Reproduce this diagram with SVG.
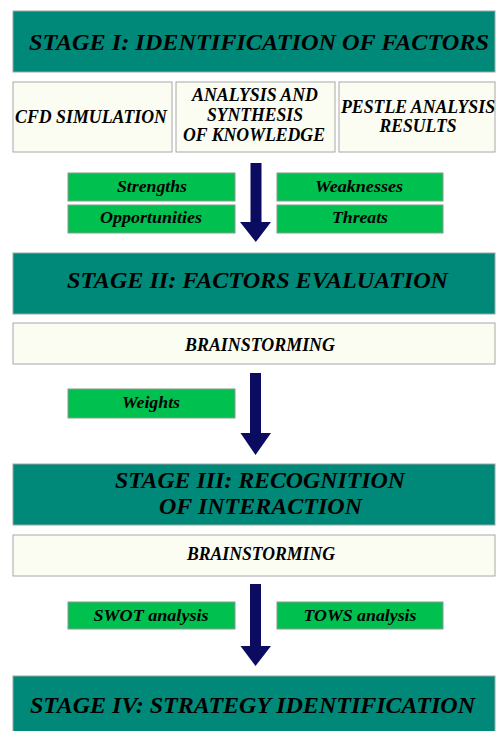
<svg xmlns="http://www.w3.org/2000/svg" width="497" height="731" viewBox="0 0 497 731">
<style>
.stage{fill:#008878;stroke:#9aa8a4;stroke-width:1}
.cream{fill:#fbfdf2;stroke:#a8a8a8;stroke-width:1}
.green{fill:#00c050;stroke:#8a9a8a;stroke-width:1}
text{font-family:"Liberation Serif","Times New Roman",serif;font-weight:bold;font-style:italic;fill:#000;text-anchor:middle}
.st{font-size:24px}
.cr{font-size:18px}
.gr{font-size:17px}
.arrow{fill:#0b0b60}
</style>
<rect width="497" height="731" fill="#ffffff"/>
<g id="stage1"><rect class="stage" x="13" y="11" width="482" height="61"/><text class="st" x="259" y="50" textLength="460" lengthAdjust="spacingAndGlyphs">STAGE I: IDENTIFICATION OF FACTORS</text></g>
<g id="cfd"><rect class="cream" x="13" y="82" width="159" height="70"/><text class="cr" x="91" y="123" textLength="152" lengthAdjust="spacingAndGlyphs">CFD SIMULATION</text></g>
<g id="analysis"><rect class="cream" x="176" y="82" width="159" height="70"/><text class="cr" x="255" y="101" textLength="126" lengthAdjust="spacingAndGlyphs">ANALYSIS AND</text><text class="cr" x="255" y="121" textLength="96" lengthAdjust="spacingAndGlyphs">SYNTHESIS</text><text class="cr" x="254" y="141" textLength="142" lengthAdjust="spacingAndGlyphs">OF KNOWLEDGE</text></g>
<g id="pestle"><rect class="cream" x="339" y="82" width="156" height="70"/><text class="cr" x="418" y="113" textLength="154" lengthAdjust="spacingAndGlyphs">PESTLE ANALYSIS</text><text class="cr" x="418" y="132" textLength="77" lengthAdjust="spacingAndGlyphs">RESULTS</text></g>
<g id="strengths"><rect class="green" x="68" y="173" width="167" height="28"/><text class="gr" x="152" y="192" textLength="70" lengthAdjust="spacingAndGlyphs">Strengths</text></g>
<g id="weaknesses"><rect class="green" x="277" y="173" width="166" height="28"/><text class="gr" x="359" y="192" textLength="88" lengthAdjust="spacingAndGlyphs">Weaknesses</text></g>
<g id="opportunities"><rect class="green" x="68" y="205" width="167" height="28"/><text class="gr" x="151" y="223" textLength="102" lengthAdjust="spacingAndGlyphs">Opportunities</text></g>
<g id="threats"><rect class="green" x="277" y="205" width="166" height="28"/><text class="gr" x="360" y="223" textLength="56" lengthAdjust="spacingAndGlyphs">Threats</text></g>
<g id="stage2"><rect class="stage" x="13" y="253" width="482" height="61"/><text class="st" x="257.5" y="288" textLength="381" lengthAdjust="spacingAndGlyphs">STAGE II: FACTORS EVALUATION</text></g>
<g id="brainstorming1"><rect class="cream" x="13" y="323" width="482" height="41"/><text class="cr" x="260" y="351" textLength="150" lengthAdjust="spacingAndGlyphs">BRAINSTORMING</text></g>
<g id="weights"><rect class="green" x="68" y="389" width="167" height="29"/><text class="gr" x="151" y="408" textLength="58" lengthAdjust="spacingAndGlyphs">Weights</text></g>
<g id="stage3"><rect class="stage" x="13" y="464" width="482" height="61"/><text class="st" x="260" y="488" textLength="290" lengthAdjust="spacingAndGlyphs">STAGE III: RECOGNITION</text><text class="st" x="260.5" y="514" textLength="203" lengthAdjust="spacingAndGlyphs">OF INTERACTION</text></g>
<g id="brainstorming2"><rect class="cream" x="13" y="535" width="482" height="41"/><text class="cr" x="261" y="560" textLength="148" lengthAdjust="spacingAndGlyphs">BRAINSTORMING</text></g>
<g id="swot"><rect class="green" x="68" y="602" width="167" height="27"/><text class="gr" x="151" y="621" textLength="115" lengthAdjust="spacingAndGlyphs">SWOT analysis</text></g>
<g id="tows"><rect class="green" x="277" y="602" width="166" height="27"/><text class="gr" x="360" y="621" textLength="113" lengthAdjust="spacingAndGlyphs">TOWS analysis</text></g>
<g id="stage4"><rect class="stage" x="13" y="676" width="482" height="64"/><text class="st" x="252.5" y="713" textLength="445" lengthAdjust="spacingAndGlyphs">STAGE IV: STRATEGY IDENTIFICATION</text></g>
<g id="connectors">
<path class="arrow" d="M250.5 163H261.5V222H271L255.8 242L240 222H250.5Z"/>
<path class="arrow" d="M250 373H261V433H271L255.5 455L240.5 433H250Z"/>
<path class="arrow" d="M250 584H261V646H271L255.5 666L240.5 646H250Z"/>
</g>
</svg>
